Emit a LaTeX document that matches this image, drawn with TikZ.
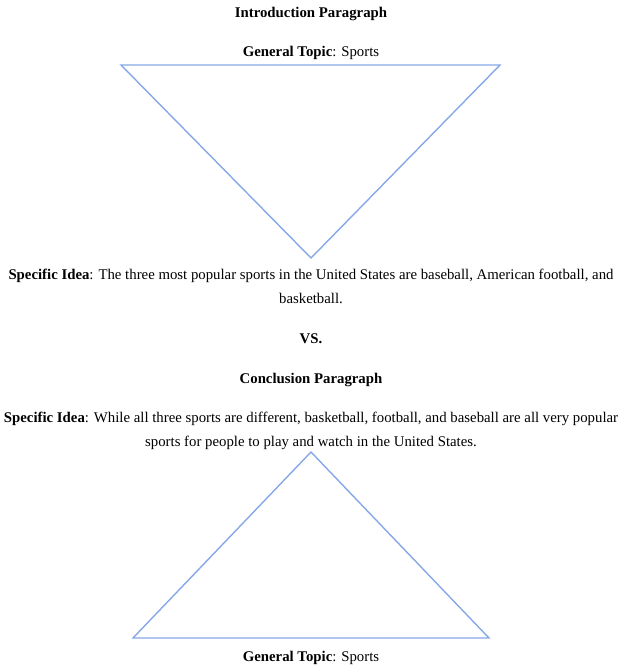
\documentclass[tikz,border=0pt]{standalone}
\usepackage{fontspec}
\setmainfont{Liberation Serif}
\definecolor{tri}{HTML}{86A8E7}
\begin{document}
\begin{tikzpicture}[x=1pt,y=-1pt,
  txt/.style={inner sep=0pt,font=\fontsize{14.8}{24}\selectfont,align=center},
  triline/.style={draw=tri,line width=1.4pt,line join=miter}]
\useasboundingbox (0,0) rectangle (621,665);
\node[txt] (intro) at (311,13.5) {\textbf{Introduction Paragraph}};
\node[txt] (gt1) at (311,52.5) {\textbf{General Topic}: Sports};
\coordinate (a1) at (121,65);
\coordinate (b1) at (500,65);
\coordinate (c1) at (311,258);
\draw[triline] (a1) -- (b1) -- (c1) -- cycle;
\node[txt] (si1) at (311,286.5) {\textbf{Specific Idea}: The three most popular sports in the United States are baseball, American football, and\\basketball.};
\node[txt] (vs) at (311,338.5) {\textbf{VS.}};
\node[txt] (concl) at (311,379.5) {\textbf{Conclusion Paragraph}};
\node[txt] (si2) at (311,430.5) {\textbf{Specific Idea}: While all three sports are different, basketball, football, and baseball are all very popular\\sports for people to play and watch in the United States.};
\coordinate (c2) at (311,452);
\coordinate (a2) at (133,638);
\coordinate (b2) at (489,638);
\draw[triline] (c2) -- (a2) -- (b2) -- cycle;
\node[txt] (gt2) at (311,657.5) {\textbf{General Topic}: Sports};
\end{tikzpicture}
\end{document}
